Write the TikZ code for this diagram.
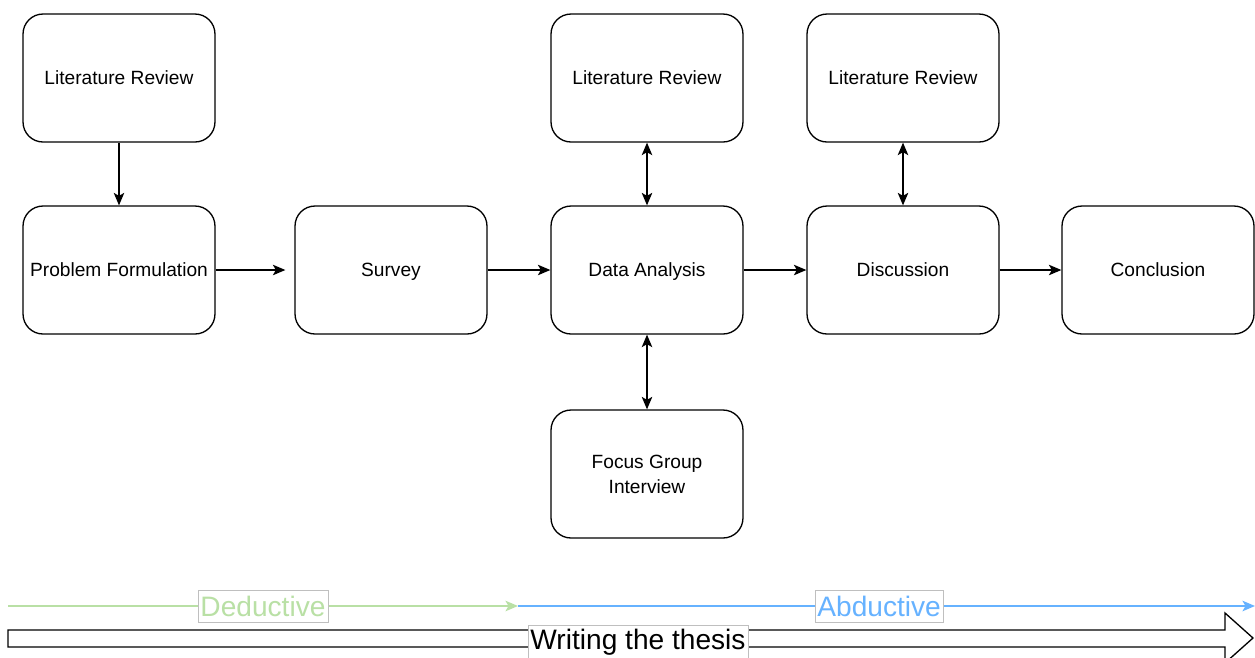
\documentclass[tikz,border=0pt]{standalone}
\usepackage{fontspec}
\setmainfont{Liberation Sans}
\usetikzlibrary{arrows.meta}
\definecolor{dedgreen}{HTML}{B9E0A5}
\definecolor{abdblue}{HTML}{66B2FF}
\begin{document}
\begin{tikzpicture}[x=.02cm,y=-.02cm,font=\fontsize{10.9}{14.2}\selectfont,
 >={Stealth[length=.25cm,width=.21cm,inset=.06cm]}]
\tikzset{box/.style={draw,rounded corners=.4cm,line width=.75pt,minimum width=3.84cm,minimum height=2.56cm,align=center,text height=.82em,text depth=.12em},
 conn/.style={line width=.75pt},
 lbl/.style={draw=black!25,fill=white,line width=.4pt,font=\fontsize{16}{19}\selectfont,inner xsep=.05cm,inner ysep=0pt,minimum height=.64cm}}
\useasboundingbox (0,0) rectangle (1255,657);
\node[box] (lit1) at (119,78) {Literature Review};
\node[box] (prob) at (119,270) {Problem Formulation};
\node[box] (surv) at (391,270) {Survey};
\node[box] (data) at (647,270) {Data Analysis};
\node[box] (lit2) at (647,78) {Literature Review};
\node[box,text height={},text depth={}] (focus) at (647,474) {Focus Group\\Interview};
\node[box] (lit3) at (903,78) {Literature Review};
\node[box] (disc) at (903,270) {Discussion};
\node[box] (conc) at (1158,270) {Conclusion};
\draw[conn,->] (lit1) -- (prob);
\draw[conn,->,shorten >=.18cm] (prob) -- (surv);
\foreach \a/\b in {surv/data,data/disc,disc/conc}{\draw[conn,->] (\a) -- (\b);}
\foreach \a/\b in {lit2/data,data/focus,lit3/disc}{\draw[conn,<->] (\a) -- (\b);}
% reasoning lines
\coordinate (dstart) at (8,606);
\coordinate (dend) at (518,606);
\coordinate (aend) at (1255,606);
\draw[dedgreen,line width=1.1pt,->] (dstart) -- (dend) node[lbl,text=dedgreen,pos=.5] (ded) {Deductive};
\draw[abdblue,line width=1.1pt,->] (dend) -- (aend) node[lbl,text=abdblue,pos=.49] (abd) {Abductive};
% thesis arrow
\draw[line width=.75pt] (8,630) -- (1225,630) -- (1225,613) -- (1253,638) -- (1225,663) -- (1225,647) -- (8,647) -- cycle;
\node[lbl,minimum height=.68cm] (thesis) at (638,642) {Writing the thesis};
\end{tikzpicture}
\end{document}
